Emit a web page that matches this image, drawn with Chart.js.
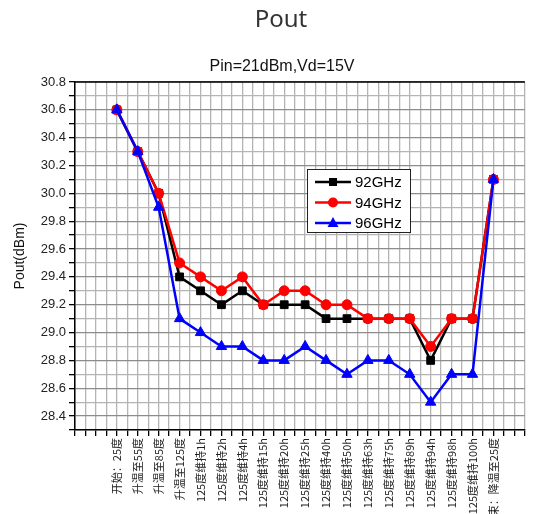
<!DOCTYPE html>
<html>
<head>
<meta charset="utf-8">
<script src="https://cdn.jsdelivr.net/npm/chart.js@4/dist/chart.umd.min.js"></script>
<style>
  body { margin: 0; background: #fff; }
  #wrap { width: 540px; height: 514px; position: relative; }
</style>
</head>
<body>
<div id="wrap"><canvas id="poutChart"></canvas></div>
<script>
var stages = ['开始：25度', '升温至55度', '升温至85度', '升温至125度',
  '125度维持1h', '125度维持2h', '125度维持4h', '125度维持15h', '125度维持20h',
  '125度维持25h', '125度维持40h', '125度维持50h', '125度维持63h', '125度维持75h',
  '125度维持89h', '125度维持94h', '125度维持98h', '125度维持100h', '结束：降温至25度'];
var seriesNames = ['92GHz', '94GHz', '96GHz'];
var pout92 = [30.6, 30.3, 30.0, 29.4, 29.3, 29.2, 29.3, 29.2, 29.2, 29.2, 29.1, 29.1, 29.1, 29.1, 29.1, 28.8, 29.1, 29.1, 30.1];
var pout94 = [30.6, 30.3, 30.0, 29.5, 29.4, 29.3, 29.4, 29.2, 29.3, 29.3, 29.2, 29.2, 29.1, 29.1, 29.1, 28.9, 29.1, 29.1, 30.1];
var pout96 = [30.6, 30.3, 29.9, 29.1, 29.0, 28.9, 28.9, 28.8, 28.8, 28.9, 28.8, 28.7, 28.8, 28.8, 28.7, 28.5, 28.7, 28.7, 30.1];
var mainTitle = 'Pout';
var subTitle = 'Pin=21dBm,Vd=15V';
var yTitle = 'Pout(dBm)';

function toPoints(arr) {
  return arr.map(function (v, i) { return { x: i, y: v }; });
}

var colors = ['#000000', '#ff0000', '#0000ff'];
var styles = ['rect', 'circle', 'triangle'];
var radii = [5.5, 5, 6];

var datasets = [pout92, pout94, pout96].map(function (vals, k) {
  return {
    label: seriesNames[k],
    data: toPoints(vals),
    borderColor: colors[k],
    backgroundColor: colors[k],
    pointBackgroundColor: colors[k],
    pointBorderColor: colors[k],
    pointStyle: styles[k],
    pointRadius: radii[k],
    borderWidth: 2.5,
    pointBorderWidth: 1,
    order: 3 - k
  };
});

// titles, top border and the boxed legend
var decorPlugin = {
  id: 'decor',
  afterDraw: function (chart) {
    var ctx = chart.ctx, a = chart.chartArea;
    ctx.save();
    ctx.strokeStyle = '#000';
    ctx.lineWidth = 1.5;
    ctx.beginPath();
    ctx.moveTo(a.left, a.top);
    ctx.lineTo(a.right, a.top);
    ctx.stroke();

    ctx.fillStyle = '#333';
    ctx.textAlign = 'center';
    ctx.textBaseline = 'middle';
    ctx.font = '24px "Noto Sans"';
    ctx.fillText(mainTitle, 281, 20);
    ctx.fillStyle = '#111';
    ctx.font = '16px "Liberation Sans"';
    ctx.fillText(subTitle, 282, 67);

    // legend
    var bx = 307, by = 169, bw = 103, bh = 63;
    ctx.fillStyle = '#fff';
    ctx.fillRect(bx, by, bw, bh);
    ctx.strokeStyle = '#222';
    ctx.lineWidth = 1;
    ctx.strokeRect(bx + 0.5, by + 0.5, bw, bh);
    ctx.font = '15px "Liberation Sans"';
    ctx.textAlign = 'left';
    chart.data.datasets.forEach(function (ds, k) {
      var y = 182 + k * 20.5;
      ctx.strokeStyle = ds.borderColor;
      ctx.lineWidth = 2.5;
      ctx.beginPath();
      ctx.moveTo(315, y);
      ctx.lineTo(351, y);
      ctx.stroke();
      ctx.fillStyle = ds.borderColor;
      var cx = 333;
      ctx.beginPath();
      if (ds.pointStyle === 'rect') {
        ctx.rect(cx - 4, y - 4, 8, 8);
      } else if (ds.pointStyle === 'circle') {
        ctx.arc(cx, y, 5, 0, Math.PI * 2);
      } else {
        ctx.moveTo(cx, y - 6);
        ctx.lineTo(cx + 5.5, y + 4);
        ctx.lineTo(cx - 5.5, y + 4);
        ctx.closePath();
      }
      ctx.fill();
      ctx.fillStyle = '#000';
      ctx.fillText(ds.label, 355, y + 1);
    });
    ctx.restore();
  }
};

var ctx = document.getElementById('poutChart').getContext('2d');
var chart = new Chart(ctx, {
  type: 'line',
  data: { datasets: datasets },
  options: {
    responsive: true,
    maintainAspectRatio: false,
    animation: false,
    layout: { padding: { top: 82, right: 8, left: 0, bottom: 0 } },
    plugins: {
      legend: { display: false },
      tooltip: { enabled: false }
    },
    scales: {
      x: {
        type: 'linear',
        min: -2,
        max: 19.5,
        afterFit: function (s) { s.height = 84; },
        afterBuildTicks: function (s) {
          var t = [];
          for (var i = -4; i <= 39; i++) t.push({ value: i / 2 });
          s.ticks = t;
        },
        ticks: {
          autoSkip: false,
          maxRotation: 90,
          minRotation: 90,
          padding: 2,
          color: '#222',
          font: { family: '"Noto Sans CJK SC"', size: 11 },
          callback: function (v) {
            return (Number.isInteger(v) && v >= 0 && v < stages.length) ? stages[v] : '';
          }
        },
        grid: {
          color: '#b4b4b4',
          lineWidth: 1.3,
          tickColor: '#000',
          tickLength: 6
        },
        border: { color: '#000', width: 1.5 }
      },
      y: {
        min: 28.3,
        max: 30.8,
        afterFit: function (s) { s.width = 75; },
        afterBuildTicks: function (s) {
          var t = [];
          for (var i = 283; i <= 308; i++) t.push({ value: i / 10 });
          s.ticks = t;
        },
        title: {
          display: true,
          text: yTitle,
          color: '#111',
          font: { family: '"Liberation Sans"', size: 14 },
          padding: { top: 12, bottom: 0 }
        },
        ticks: {
          autoSkip: false,
          color: '#222',
          padding: 3,
          font: { family: '"Liberation Sans"', size: 13 },
          callback: function (v) {
            var n = Math.round(v * 10);
            return n % 2 === 0 ? (n / 10).toFixed(1) : '';
          }
        },
        grid: {
          color: function (c) {
            var n = Math.round(c.tick.value * 10);
            return n % 2 === 0 ? '#8c8c8c' : '#b4b4b4';
          },
          lineWidth: 1.3,
          tickColor: '#000',
          tickLength: 6
        },
        border: { color: '#000', width: 1.5 }
      }
    }
  },
  plugins: [decorPlugin]
});
</script>
</body>
</html>
